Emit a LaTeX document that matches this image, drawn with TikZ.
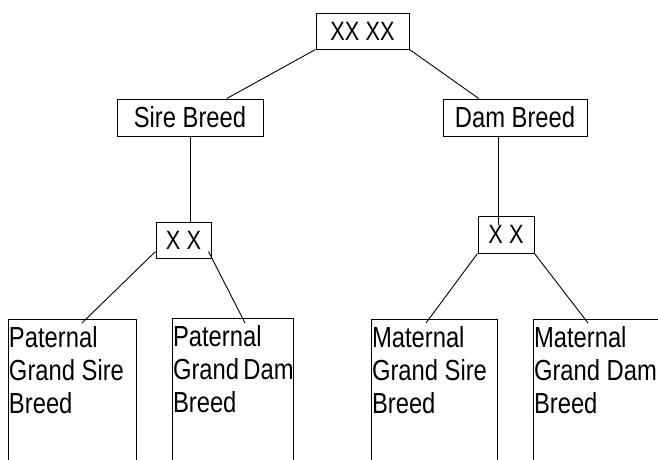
\documentclass[tikz,border=0pt]{standalone}
\usepackage{fontspec}
\setmainfont[FakeStretch=0.82]{Liberation Sans}
\usetikzlibrary{calc}
\newcommand{\gpbox}[2]{\parbox[t][150pt][t]{#1}{#2}}

\begin{document}
\begin{tikzpicture}[x=1pt,y=-1pt,line width=0.9pt]
\tikzstyle{breed}=[rectangle,draw,line width=1pt,inner sep=0pt,font=\fontsize{29}{33}\selectfont]
\tikzstyle{cross}=[breed,font=\fontsize{26.5}{30}\selectfont]
\tikzstyle{grand}=[rectangle,draw,line width=1pt,anchor=north west,inner xsep=0.5pt,inner ysep=7.2pt,font=\fontsize{29}{33}\selectfont]
\clip (0,0) rectangle (658,459);
\node[cross,minimum width=93pt,minimum height=36pt](top) at (362.5,31) {XX XX};
\node[breed,minimum width=146pt,minimum height=37pt](sire) at (190,117.5) {Sire Breed};
\node[breed,minimum width=144pt,minimum height=37pt](dam) at (515,117.5) {Dam Breed};
\node[cross,minimum width=55pt,minimum height=36pt](xxl) at (183.5,240) {X X};
\node[cross,minimum width=56pt,minimum height=37pt](xxr) at (506,234.5) {X X};
\node[grand](pgs) at (8,319) {\gpbox{127pt}{Paternal\\Grand~Sire\\Breed}};
\node[grand](pgd) at (172,318) {\gpbox{120pt}{Paternal\\Grand~Dam\\Breed}};
\node[grand](mgs) at (371,319) {\gpbox{125pt}{Maternal\\Grand~Sire\\Breed}};
\node[grand](mgd) at (533,319) {\gpbox{150pt}{Maternal\\Grand~Dam\\Breed}};

\coordinate (damfoot) at ([xshift=-17pt]dam.south);

\draw (top.south west) -- ($(sire.north)!0.5!(sire.north east)$);
\draw (top.south east) -- ($(dam.north west)!0.5!(dam.north)$);
\draw (sire.south) -- (sire.south |- xxl.north);
\draw (damfoot) -- ($(damfoot |- xxr.north)+(0,9)$);
\draw ([yshift=7pt]xxl.south west) -- ($(pgs.north west)+(74,4)$);
\draw ([xshift=-3pt,yshift=7pt]xxl.south east) -- ($(pgd.north west)+(73,5)$);
\draw (xxr.south west) -- ($(mgs.north west)+(55,4)$);
\draw (xxr.south east) -- ($(mgd.north west)+(55,4)$);
\end{tikzpicture}
\end{document}
